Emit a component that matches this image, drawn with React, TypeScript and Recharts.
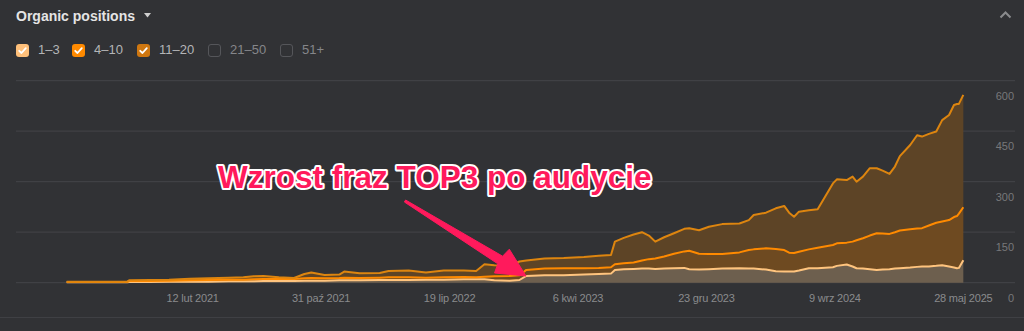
import React from 'react';
import { AreaChart, Area, XAxis, YAxis, CartesianGrid } from 'recharts';

const DATES = [
  '2020-06-01', '2020-08-06', '2020-10-02', '2020-10-06', '2020-11-16', '2020-12-26',
  '2021-02-06', '2021-03-16', '2021-04-26', '2021-05-26', '2021-06-16', '2021-07-06',
  '2021-08-06', '2021-09-06', '2021-09-27', '2021-10-11', '2021-11-07', '2021-12-07',
  '2021-12-17', '2022-01-17', '2022-02-27', '2022-03-17', '2022-04-27', '2022-06-01',
  '2022-07-07', '2022-08-17', '2022-09-11', '2022-09-28', '2022-10-18', '2022-11-18',
  '2022-12-08', '2022-12-22', '2023-01-28', '2023-03-08', '2023-04-18', '2023-05-18',
  '2023-06-12', '2023-06-20', '2023-07-08', '2023-07-28', '2023-08-14', '2023-08-28',
  '2023-09-10', '2023-09-28', '2023-10-18', '2023-11-08', '2023-11-18', '2023-12-08',
  '2023-12-28', '2024-01-24', '2024-02-28', '2024-03-18', '2024-03-28', '2024-04-22',
  '2024-05-12', '2024-05-29', '2024-06-08', '2024-06-18', '2024-06-28', '2024-07-18',
  '2024-08-05', '2024-09-05', '2024-09-13', '2024-10-03', '2024-10-15', '2024-10-23',
  '2024-11-05', '2024-11-19', '2024-12-03', '2024-12-15', '2024-12-29', '2025-01-09',
  '2025-01-19', '2025-02-09', '2025-02-23', '2025-03-05', '2025-03-19', '2025-04-03',
  '2025-04-15', '2025-04-29', '2025-05-09', '2025-05-15', '2025-05-19', '2025-05-28',
];

const POS_1_3 = [
  1, 1, 1, 2, 2, 3,
  3, 3, 4, 4, 4, 5,
  5, 5, 6, 6, 6, 7,
  7, 7, 8, 8, 8, 9,
  9, 10, 10, 10, 7, 6,
  8, 20, 22, 22, 24, 26,
  27, 38, 40, 41, 42, 42,
  41, 42, 43, 44, 40, 39,
  40, 42, 43, 42, 42, 39,
  34, 33, 33, 33, 36, 43,
  43, 46, 50, 54, 48, 43,
  42, 40, 38, 39, 40, 42,
  43, 45, 47, 48, 48, 50,
  52, 48, 45, 43, 44, 67,
];

const POS_4_10 = [
  1, 1, 1, 3, 3, 3,
  4, 5, 5, 5, 6, 6,
  6, 6, 7, 8, 7, 7,
  8, 7, 7, 8, 8, 6,
  7, 7, 6, 8, 12, 14,
  14, 18, 20, 21, 19, 18,
  19, 17, 18, 19, 24, 28,
  31, 36, 43, 49, 55, 47,
  45, 43, 47, 55, 57, 63,
  66, 64, 56, 55, 56, 56,
  61, 66, 67, 65, 74, 83,
  90, 100, 109, 107, 105, 108,
  112, 114, 114, 114, 122, 128,
  130, 138, 150, 155, 161, 157,
];

const POS_11_20 = [
  1, 1, 1, 2, 3, 3,
  5, 5, 6, 7, 9, 9,
  5, 3, 13, 16, 10, 10,
  18, 14, 14, 19, 20, 15,
  20, 19, 19, 37, 33, 30,
  41, 28, 30, 30, 33, 36,
  36, 67, 75, 83, 84, 70,
  50, 57, 61, 67, 67, 70,
  81, 89, 86, 89, 102, 106,
  121, 131, 119, 108, 119, 116,
  114, 183, 190, 186, 193, 174,
  183, 200, 193, 187, 178, 195,
  221, 250, 277, 272, 272, 271,
  301, 312, 333, 333, 326, 334,
];

const X_TICK_DATES = ['2021-02-12', '2021-10-31', '2022-07-19', '2023-04-06', '2023-12-23', '2024-09-09', '2025-05-28'];
const X_DOMAIN_DATES = ['2020-02-19', '2025-09-10'];
const Y_TICKS = [0, 150, 300, 450, 600];
const MONTHS_PL = ['sty', 'lut', 'mar', 'kwi', 'maj', 'cze', 'lip', 'sie', 'wrz', 'paź', 'lis', 'gru'];

const SERIES = [
  { key: 'p1', label: '1–3', stroke: '#FFC47E', fill: '#6D5F4E', box: '#FFC07A' },
  { key: 'p2', label: '4–10', stroke: '#FF8A00', fill: '#6E4A21', box: '#FF8A00' },
  { key: 'p3', label: '11–20', stroke: '#DD850F', fill: '#5D4426', box: '#CF7710' },
];
const LEGEND_EXTRA = ['21–50', '51+'];

const TITLE = 'Organic positions';
const ANNOTATION = 'Wzrost fraz TOP3 po audycie';

const toTs = (s: string) => {
  const [y, m, d] = s.split('-').map(Number);
  return Date.UTC(y, m - 1, d);
};

const fmtDate = (ts: number) => {
  const d = new Date(ts);
  return `${d.getUTCDate()} ${MONTHS_PL[d.getUTCMonth()]} ${d.getUTCFullYear()}`;
};

const data = DATES.map((d, i) => ({
  t: toTs(d),
  p1: POS_1_3[i],
  p2: POS_4_10[i],
  p3: POS_11_20[i],
}));

const FONT = "'Liberation Sans', Arial, sans-serif";

const XTick = (props: any) => {
  const { x, y, payload } = props;
  return (
    <text x={x} y={y + 15.5} textAnchor="middle" dominantBaseline="central" fill="#8a8b8d" fontSize={11} letterSpacing={-0.2} fontFamily={FONT}>
      {fmtDate(payload.value)}
    </text>
  );
};

const YTick = (props: any) => {
  const { y, payload, plotRight } = props;
  return (
    <text x={plotRight - 1} y={y + 15} textAnchor="end" dominantBaseline="central" fill="#77787a" fontSize={11} fontFamily={FONT}>
      {payload.value}
    </text>
  );
};

const Check = ({ color, checked }: { color: string; checked: boolean }) => (
  <div
    style={{
      width: 13,
      height: 13,
      borderRadius: 3,
      boxSizing: 'border-box',
      background: checked ? color : 'transparent',
      border: checked ? 'none' : '1.5px solid #55565a',
      display: 'flex',
      alignItems: 'center',
      justifyContent: 'center',
    }}
  >
    {checked && (
      <svg width={13} height={13} viewBox="0 0 13 13">
        <polyline points="3.2,6.8 5.5,9 9.8,4.2" fill="none" stroke="#ffffff" strokeWidth={1.8} strokeLinecap="round" strokeLinejoin="round" />
      </svg>
    )}
  </div>
);

const CHART_W = 1024;
const MARGIN = { top: 80.7, right: 8, bottom: 18.3, left: 16 };
const Y_AXIS_W = 1;

export default function App() {
  const legendItems = [
    ...SERIES.map((s) => ({ label: s.label, color: s.box, checked: true })),
    ...LEGEND_EXTRA.map((l) => ({ label: l, color: '', checked: false })),
  ];
  const legendX = [16, 72, 137, 208, 280];
  const plotRight = CHART_W - MARGIN.right - Y_AXIS_W;
  return (
    <div
      style={{
        position: 'absolute',
        left: 0,
        top: 0,
        width: 1024,
        height: 331,
        background: '#313235',
        overflow: 'hidden',
        fontFamily: FONT,
      }}
    >
      <div style={{ position: 'absolute', left: 16, top: 8, height: 17, lineHeight: '17px', fontSize: 14, fontWeight: 700, color: '#e4e4e4' }}>
        {TITLE}
      </div>
      <svg style={{ position: 'absolute', left: 144, top: 13 }} width={8} height={6}>
        <polygon points="0,0 7,0 3.5,4.5" fill="#cfcfcf" />
      </svg>
      <svg style={{ position: 'absolute', left: 999, top: 10 }} width={14} height={10}>
        <polyline points="1.5,7.5 6.5,2.5 11.5,7.5" fill="none" stroke="#8a8b8d" strokeWidth={2} />
      </svg>
      {legendItems.map((it, i) => (
        <div key={it.label} style={{ position: 'absolute', left: legendX[i], top: 43, display: 'flex', alignItems: 'center', height: 14 }}>
          <Check color={it.color} checked={it.checked} />
          <span style={{ marginLeft: 9, fontSize: 13, color: it.checked ? '#b4b5b7' : '#85868a', lineHeight: '14px' }}>{it.label}</span>
        </div>
      ))}
      <div style={{ position: 'absolute', left: 0, top: 316.5, width: 1024, height: 1, background: '#3f4044' }} />
      <div style={{ position: 'absolute', left: 0, top: 0 }}>
        <AreaChart width={CHART_W} height={331} data={data} margin={MARGIN}>
          <CartesianGrid horizontal vertical={false} stroke="#404145" strokeWidth={1.2} />
          <XAxis
            dataKey="t"
            type="number"
            scale="linear"
            domain={X_DOMAIN_DATES.map(toTs)}
            ticks={X_TICK_DATES.map(toTs)}
            tick={<XTick />}
            tickLine={false}
            axisLine={false}
            tickSize={0}
            tickMargin={0}
            height={30}
            allowDataOverflow
          />
          <YAxis
            orientation="right"
            width={Y_AXIS_W}
            domain={[0, 600]}
            ticks={Y_TICKS}
            interval={0}
            tick={<YTick plotRight={plotRight} />}
            tickLine={false}
            axisLine={false}
            tickSize={0}
            tickMargin={0}
          />
          {SERIES.map((s) => (
            <Area
              key={`fill-${s.key}`}
              type="linear"
              dataKey={s.key}
              stackId="fills"
              stroke="none"
              fill={s.fill}
              fillOpacity={1}
              dot={false}
              activeDot={false}
              isAnimationActive={false}
            />
          ))}
          {SERIES.map((s) => (
            <Area
              key={`line-${s.key}`}
              type="linear"
              dataKey={s.key}
              stackId="lines"
              stroke={s.stroke}
              strokeWidth={2}
              strokeLinejoin="round"
              fill="none"
              dot={false}
              activeDot={false}
              isAnimationActive={false}
            />
          ))}
        </AreaChart>
      </div>
      <svg style={{ position: 'absolute', left: 0, top: 0 }} width={1024} height={331}>
        <polygon
          points="405.6,200 502.6,256.2 509.3,249.2 526,276 494.5,273 497.8,263.8 404.4,202"
          fill="#FF1A5C"
          stroke="#FF1A5C"
          strokeWidth={1}
          strokeLinejoin="round"
        />
        <text
          x={218}
          y={187.5}
          fontSize={31.5}
          fontWeight={700}
          fontFamily={FONT}
          fill="#FF1A5C"
          stroke="#ffffff"
          strokeWidth={4}
          strokeLinejoin="round"
          paintOrder="stroke"
        >
          {ANNOTATION}
        </text>
      </svg>
    </div>
  );
}
